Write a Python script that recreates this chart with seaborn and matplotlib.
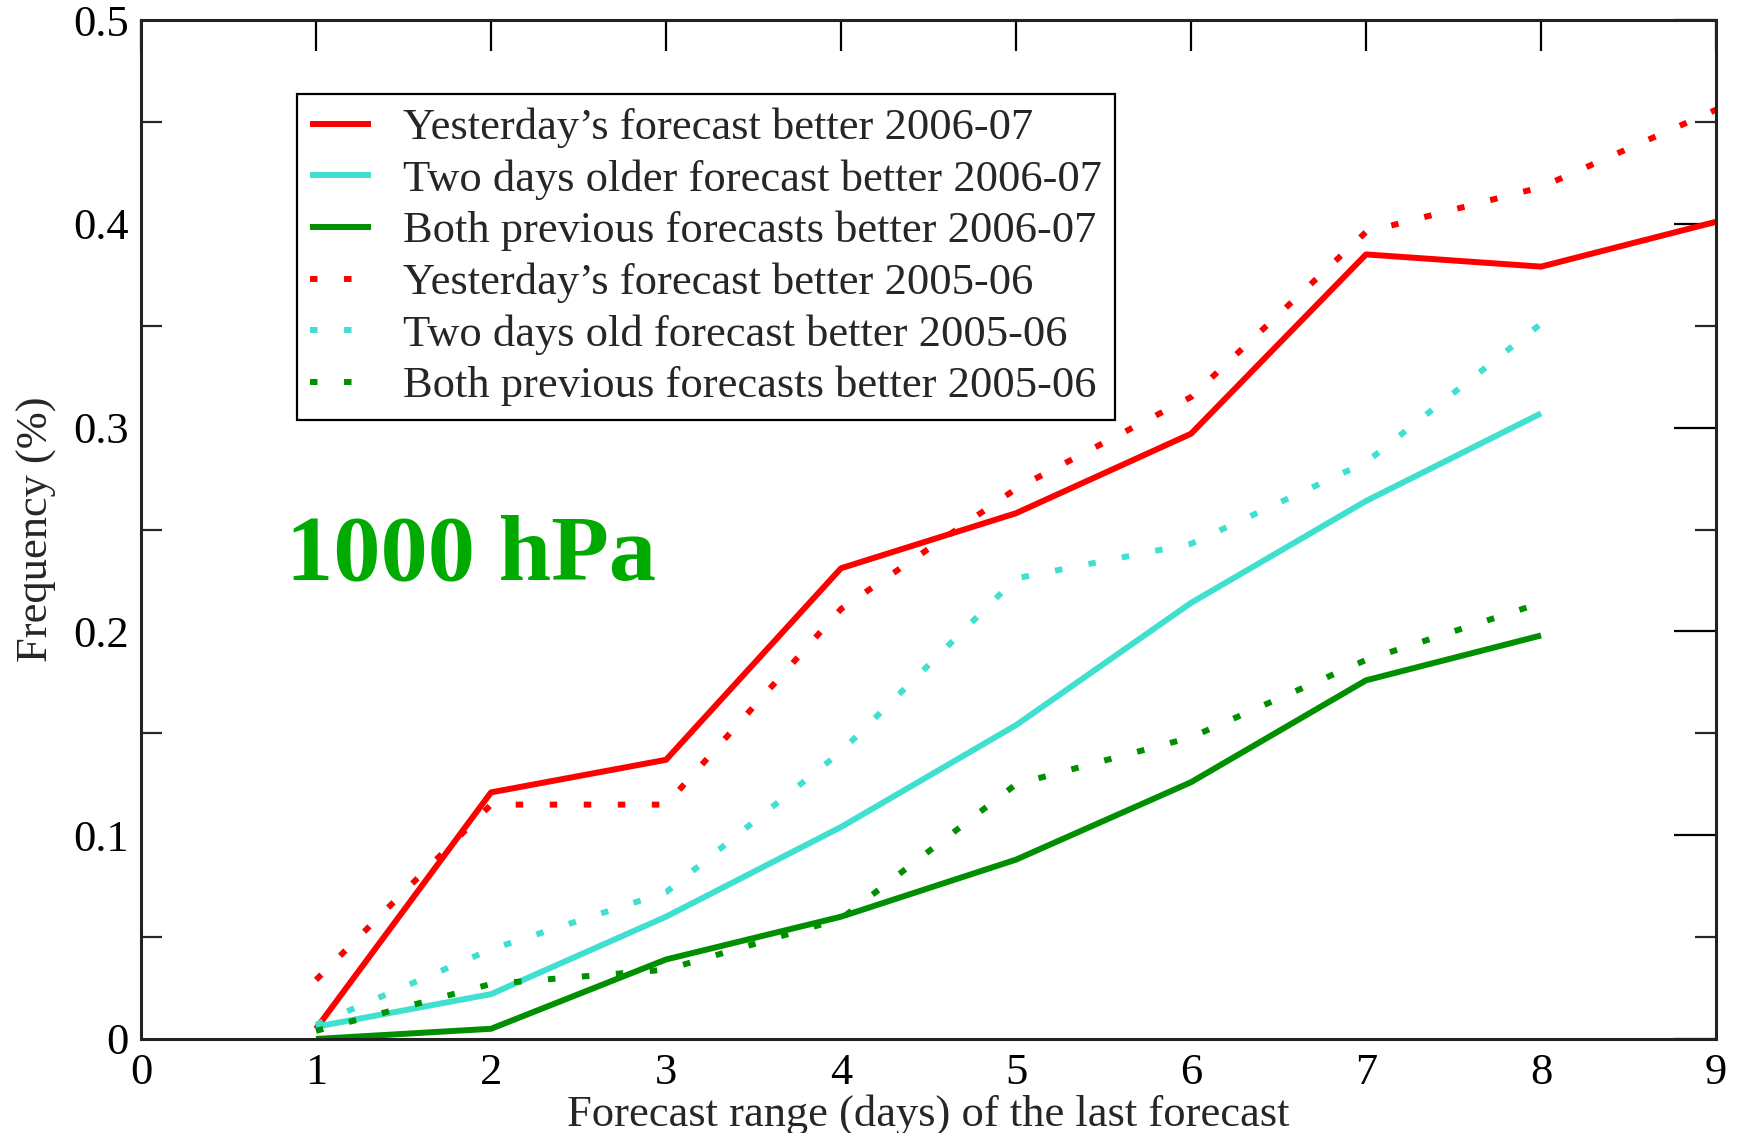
import numpy as np
import pandas as pd
import matplotlib
matplotlib.use("Agg")
import matplotlib.pyplot as plt
import seaborn as sns
from matplotlib.ticker import MultipleLocator, FuncFormatter

# ---------------- data ----------------
days_full = [1, 2, 3, 4, 5, 6, 7, 8, 9]
days_short = [1, 2, 3, 4, 5, 6, 7, 8]

yesterday_0607 = [0.005, 0.121, 0.137, 0.231, 0.258, 0.297, 0.385, 0.379, 0.401]
twodays_0607 = [0.006, 0.022, 0.060, 0.104, 0.154, 0.214, 0.264, 0.307]
both_0607 = [0.000, 0.005, 0.039, 0.060, 0.088, 0.126, 0.176, 0.198]
yesterday_0506 = [0.029, 0.115, 0.115, 0.211, 0.270, 0.315, 0.396, 0.418, 0.456]
twodays_0506 = [0.007, 0.044, 0.072, 0.141, 0.226, 0.243, 0.283, 0.351]
both_0506 = [0.004, 0.027, 0.034, 0.059, 0.125, 0.148, 0.186, 0.214]

labels = [
    "Yesterday\u2019s forecast better 2006-07",
    "Two days older forecast better 2006-07",
    "Both previous forecasts better 2006-07",
    "Yesterday\u2019s forecast better 2005-06",
    "Two days old forecast better 2005-06",
    "Both previous forecasts better 2005-06",
]
x_ticks = [0, 1, 2, 3, 4, 5, 6, 7, 8, 9]
y_ticks = [0, 0.1, 0.2, 0.3, 0.4, 0.5]

# ---------------- style ----------------
sns.set_style("white")
plt.rcParams["font.family"] = ["Liberation Serif", "DejaVu Serif"]

RED = "#ff0000"
CYAN = "#40e0d0"
GREEN = "#008f00"
DOT = (0, (1.25, 4.45))

fig = plt.figure(figsize=(17.39, 11.33), dpi=100)
ax = fig.add_axes([0.0811, 0.0830, 0.9057, 0.8993])

series = [
    (days_full, yesterday_0607, RED, "-"),
    (days_short, twodays_0607, CYAN, "-"),
    (days_short, both_0607, GREEN, "-"),
    (days_full, yesterday_0506, RED, DOT),
    (days_short, twodays_0506, CYAN, DOT),
    (days_short, both_0506, GREEN, DOT),
]
for (xs, ys, col, ls), lab in zip(series, labels):
    sns.lineplot(x=xs, y=ys, color=col, linestyle=ls, linewidth=4.3,
                 label=lab, ax=ax, dash_capstyle="butt", solid_capstyle="butt")

ax.set_xlim(0, 9)
ax.set_ylim(0, 0.5)
ax.set_xticks(x_ticks)
ax.set_yticks(y_ticks)
ax.yaxis.set_minor_locator(MultipleLocator(0.05))
ax.yaxis.set_major_formatter(FuncFormatter(lambda v, p: "0" if abs(v) < 1e-9 else f"{v:.1f}"))

ax.tick_params(axis="both", which="major", direction="in", length=22, width=1.6,
               top=True, right=True, labelsize=32, colors="black")
ax.tick_params(axis="y", which="major", length=30)
ax.tick_params(axis="y", which="minor", direction="in", length=15, width=1.6,
               left=True, right=True)
ax.tick_params(axis="x", which="major", pad=10)
ax.tick_params(axis="y", which="major", pad=9)

for sp in ax.spines.values():
    sp.set_linewidth(2.2)
    sp.set_color("#222222")

ax.set_xlabel("Forecast range (days) of the last forecast", fontsize=32)
ax.set_ylabel("Frequency (%)", fontsize=32)
ax.xaxis.set_label_coords(0.5, -0.054)
ax.yaxis.set_label_coords(-0.0535, 0.5)

ax.text(0.092, 0.451, "1000 hPa", transform=ax.transAxes, fontsize=68,
        fontweight="bold", color="#00aa00", ha="left", va="baseline")

leg = ax.legend(loc="upper left", bbox_to_anchor=(0.099, 0.927), fontsize=32,
                frameon=True, fancybox=False, framealpha=1, edgecolor="black",
                handlelength=1.37, handletextpad=0.72, labelspacing=0.25,
                borderpad=0.3, borderaxespad=0)
leg.get_frame().set_linewidth(1.6)

fig.savefig("out.png", dpi=100)
